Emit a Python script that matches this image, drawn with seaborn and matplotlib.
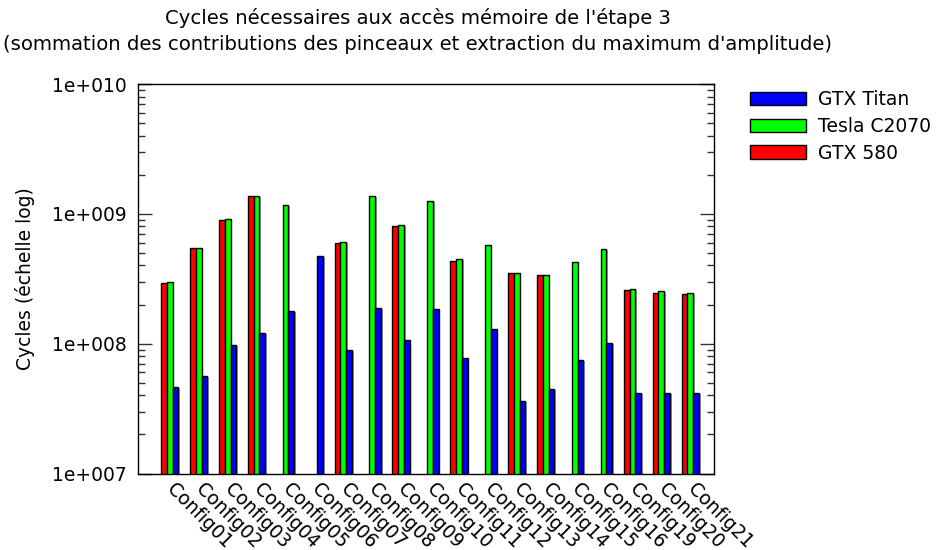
import numpy as np
import pandas as pd
import matplotlib
matplotlib.use("Agg")
import matplotlib.pyplot as plt
import matplotlib.patheffects as pe
from matplotlib.patches import Patch
from matplotlib.ticker import FixedLocator, FuncFormatter, LogLocator, NullFormatter
import seaborn as sns

# Configurations (x categories)
configs = ["Config01", "Config02", "Config03", "Config04", "Config05", "Config06",
           "Config07", "Config08", "Config09", "Config10", "Config11", "Config12",
           "Config13", "Config14", "Config15", "Config16", "Config19", "Config20",
           "Config21"]

# Memory-access cycles per GPU (NaN = not measured)
gtx580 = [2.92e8, 5.43e8, 8.93e8, 1.37e9, np.nan, np.nan, 5.93e8, np.nan, 8.02e8,
          np.nan, 4.34e8, np.nan, 3.49e8, 3.36e8, np.nan, np.nan, 2.58e8, 2.46e8, 2.41e8]
tesla = [2.97e8, 5.49e8, 9.08e8, 1.37e9, 1.17e9, np.nan, 6.10e8, 1.37e9, 8.17e8,
         1.25e9, 4.47e8, 5.73e8, 3.52e8, 3.38e8, 4.24e8, 5.34e8, 2.64e8, 2.53e8, 2.47e8]
titan = [4.61e7, 5.64e7, 9.80e7, 1.20e8, 1.80e8, 4.74e8, 8.94e7, 1.89e8, 1.06e8,
         1.86e8, 7.72e7, 1.29e8, 3.62e7, 4.50e7, 7.45e7, 1.01e8, 4.17e7, 4.17e7, 4.17e7]

series = ["GTX 580", "Tesla C2070", "GTX Titan"]
colors = ["#ff0000", "#00ff00", "#0000ff"]

rows = []
for name, vals in zip(series, [gtx580, tesla, titan]):
    for c, v in zip(configs, vals):
        rows.append({"config": c, "gpu": name, "cycles": v})
df = pd.DataFrame(rows).dropna()

sns.set_style("white")
plt.rcParams["font.family"] = ["DejaVu Sans"]
plt.rcParams["text.color"] = "black"
plt.rcParams["axes.labelcolor"] = "black"
plt.rcParams["xtick.color"] = "black"
plt.rcParams["ytick.color"] = "black"

FS = 13.5

fig = plt.figure(figsize=(9.36, 5.5), dpi=100)
ax = fig.add_axes([138 / 936, 1 - 473.5 / 550, (714 - 138) / 936, (473.5 - 84) / 550])

sns.barplot(data=df, x="config", y="cycles", hue="gpu", order=configs,
            hue_order=series, palette=colors, width=0.6, gap=0,
            edgecolor="black", linewidth=1.0, saturation=1, ax=ax,
            legend=False, errorbar=None)

shadow = [pe.SimplePatchShadow(offset=(1.2, -0.8), shadow_rgbFace="#888888", alpha=0.8),
          pe.Normal()]
for p in ax.patches:
    p.set_path_effects(shadow)

ax.set_yscale("log")
ax.set_ylim(1e7, 1e10)
ax.set_xlim(-1.1, len(configs) - 1 + 0.82)

ax.yaxis.set_major_locator(FixedLocator([1e7, 1e8, 1e9, 1e10]))
ax.yaxis.set_major_formatter(FuncFormatter(lambda v, _: "1e+%03d" % int(round(np.log10(v)))))
ax.yaxis.set_minor_locator(LogLocator(base=10, subs=np.arange(2, 10)))
ax.yaxis.set_minor_formatter(NullFormatter())
ax.tick_params(axis="y", which="major", direction="in", length=10, width=1,
               left=True, right=True, labelsize=FS, pad=8, color="#333333")
ax.tick_params(axis="y", which="minor", direction="in", length=5, width=1,
               left=True, right=True, color="#333333")
ax.tick_params(axis="x", length=0, pad=9)

ax.set_xticks(range(len(configs)))
ax.set_xticklabels(configs, rotation=-45, ha="left", va="center",
                   rotation_mode="anchor", fontsize=FS)

for s in ax.spines.values():
    s.set_visible(True)
    s.set_color("black")
    s.set_linewidth(1.0)

ax.set_xlabel("")
ax.set_ylabel("Cycles (échelle log)", fontsize=FS, labelpad=12)

fig.text(417.5 / 936, 1 - 18 / 550,
         "Cycles nécessaires aux accès mémoire de l'étape 3",
         ha="center", va="center", fontsize=14.1)
fig.text(417.5 / 936, 1 - 45 / 550,
         "(sommation des contributions des pinceaux et extraction du maximum d'amplitude)",
         ha="center", va="center", fontsize=14.1)

handles = [Patch(facecolor=c, edgecolor="black", linewidth=1.0, label=s)
           for s, c in zip(series[::-1], colors[::-1])]
fig.legend(handles=handles, loc="upper left", bbox_to_anchor=(737 / 936, 1 - 77 / 550),
           frameon=False, fontsize=FS, handlelength=3.0, handleheight=0.75,
           handletextpad=0.6, labelspacing=0.42, borderpad=0.2)

fig.savefig("out.png", dpi=100)
